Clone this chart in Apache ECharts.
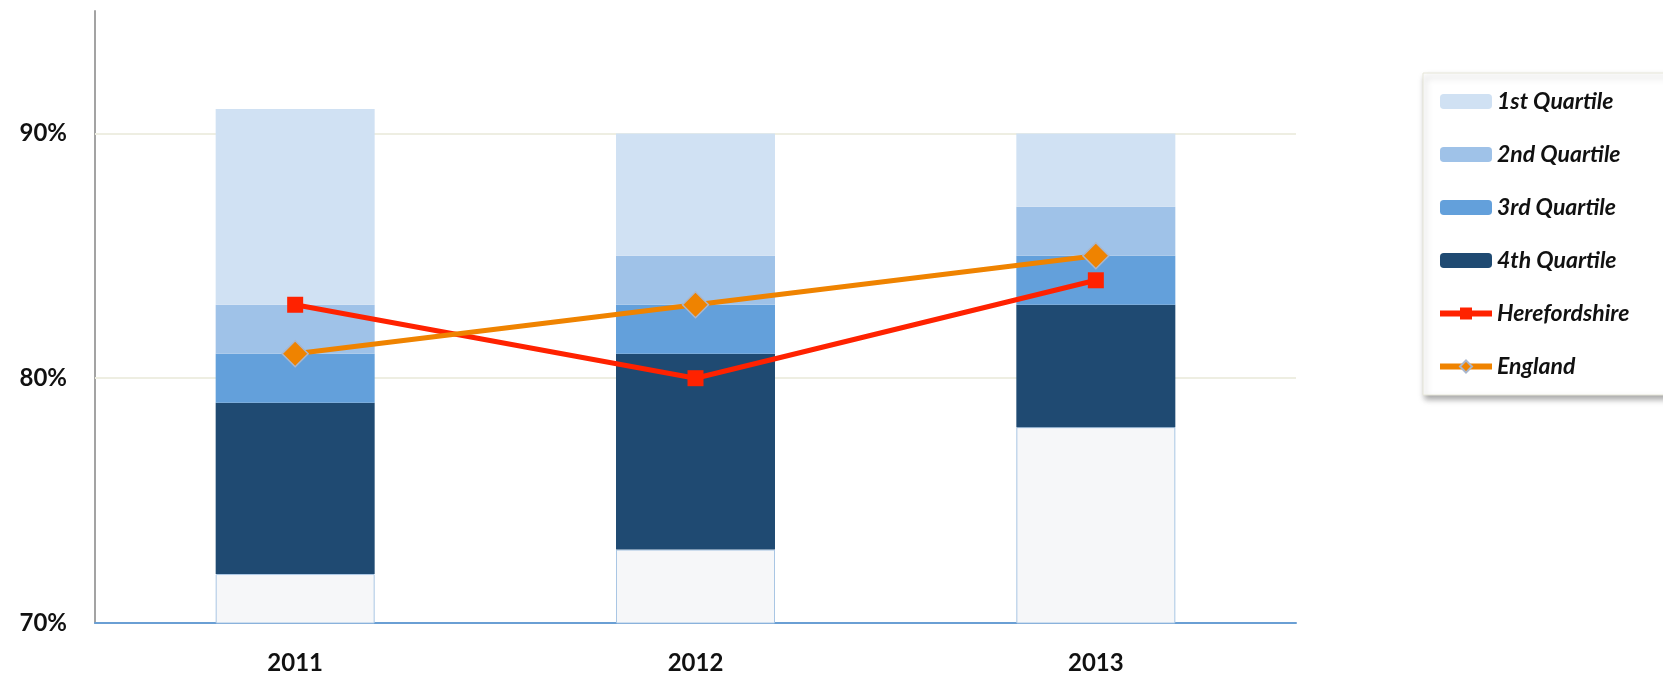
<!DOCTYPE html>
<html>
<head>
<meta charset="utf-8">
<script src="https://cdn.jsdelivr.net/npm/echarts@6/dist/echarts.min.js"></script>
<style>
  html, body { margin: 0; padding: 0; background: #fff; }
  #chart { width: 1663px; height: 677px; }
</style>
</head>
<body>
<div id="chart"></div>
<script>
const years = ['2011', '2012', '2013']
// stacked segments: base (below 4th quartile), then quartile heights
const baseVals = [72, 73, 78]
const q4 = [7, 8, 5]
const q3 = [2, 2, 2]
const q2 = [2, 2, 2]
const q1 = [8, 5, 3]
const herefordshire = [83, 80, 84]
const england = [81, 83, 85]
const gridValues = [80, 90]

const chart = echarts.init(document.getElementById('chart'))
const font = 'Lato, "Open Sans", sans-serif'

const barSeries = (name, data, color) => ({
  name: name,
  type: 'bar',
  stack: 'q',
  barWidth: 159,
  data: data,
  z: 2,
  itemStyle: { color: color },
  emphasis: { disabled: true }
})

const option = {
  animation: false,
  grid: { left: 95, right: 367, top: 11, bottom: 54 },
  legend: {
    data: [
      '1st Quartile', '2nd Quartile', '3rd Quartile', '4th Quartile',
      { name: 'Herefordshire', lineStyle: { width: 6 } },
      { name: 'England', lineStyle: { width: 6 } }
    ],
    orient: 'vertical',
    left: 1423,
    top: 73,
    padding: [17, 60, 17, 14],
    itemWidth: 52,
    itemHeight: 15,
    itemGap: 30,
    backgroundColor: '#fff',
    borderColor: '#e6e6d8',
    borderWidth: 1,
    shadowColor: 'rgba(0,0,0,0.35)',
    shadowBlur: 6,
    shadowOffsetX: 2,
    shadowOffsetY: 4,
    textStyle: { fontFamily: font, fontSize: 23, fontWeight: 'bold', fontStyle: 'italic', color: '#111' }
  },
  xAxis: {
    type: 'category',
    data: years,
    axisLine: { lineStyle: { color: '#6a9fd4', width: 2 } },
    axisTick: { show: false },
    axisLabel: { margin: 28, fontFamily: font, fontSize: 24, fontWeight: 'bold', color: '#111' }
  },
  yAxis: {
    type: 'value',
    min: 70,
    max: 95,
    interval: 10,
    axisLine: { show: true, lineStyle: { color: '#a3a3a3', width: 2 } },
    axisTick: { show: false },
    axisLabel: {
      margin: 28,
      showMaxLabel: false,
      formatter: '{value}%',
      fontFamily: font, fontSize: 24, fontWeight: 'bold', color: '#111'
    },
    splitLine: { show: false }
  },
  series: [
    {
      name: 'base',
      type: 'bar',
      stack: 'q',
      barWidth: 159,
      data: baseVals,
      z: 2,
      itemStyle: { color: '#f6f7f9', borderColor: '#a9c6e4', borderWidth: 1 },
      emphasis: { disabled: true },
      markLine: {
        silent: true,
        z: 1,
        symbol: 'none',
        label: { show: false },
        lineStyle: { color: '#eeeee2', type: 'solid', width: 2 },
        data: gridValues.map(v => ({ yAxis: v }))
      }
    },
    barSeries('4th Quartile', q4, '#1f4a72'),
    barSeries('3rd Quartile', q3, '#63a0db'),
    barSeries('2nd Quartile', q2, '#9fc2e8'),
    barSeries('1st Quartile', q1, '#d0e1f3'),
    {
      name: 'Herefordshire',
      type: 'line',
      data: herefordshire,
      z: 5,
      symbol: 'rect',
      symbolSize: 16,
      lineStyle: { color: '#ff2200', width: 5 },
      itemStyle: { color: '#ff2200' }
    },
    {
      name: 'England',
      type: 'line',
      data: england,
      z: 6,
      symbol: 'diamond',
      symbolSize: 26,
      lineStyle: { color: '#ef8300', width: 5 },
      itemStyle: { color: '#ef8300', borderColor: '#a9b6cc', borderWidth: 1.5 }
    }
  ]
}

chart.setOption(option)
</script>
</body>
</html>
